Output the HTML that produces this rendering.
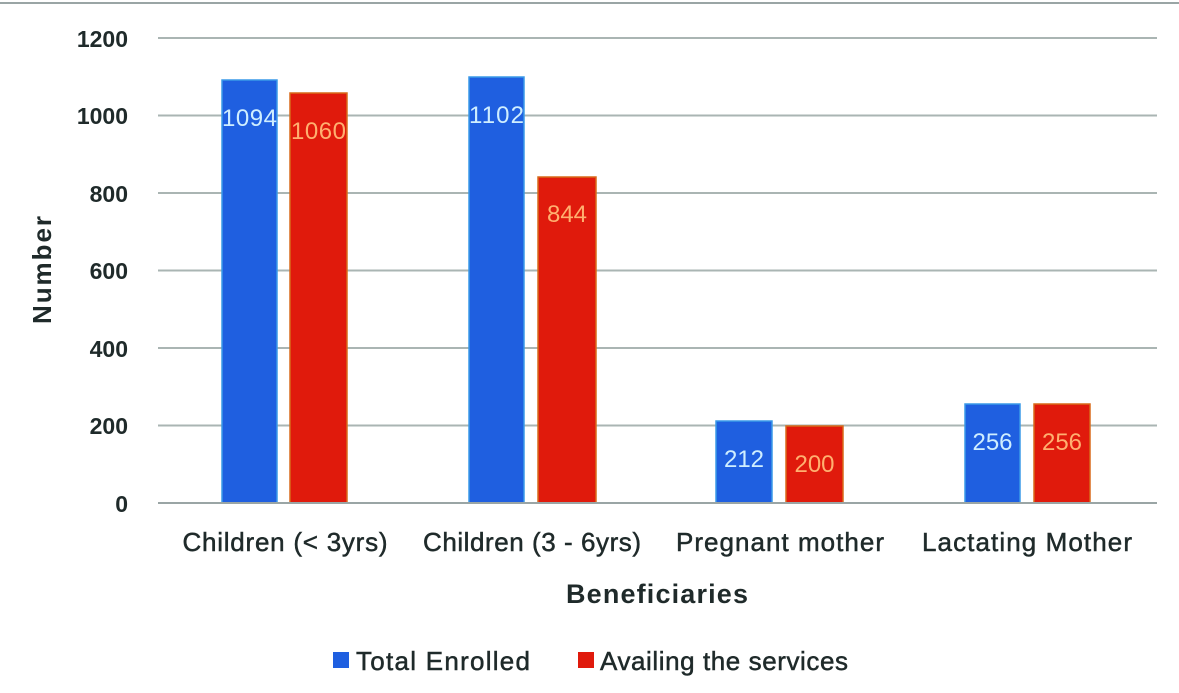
<!DOCTYPE html>
<html><head><meta charset="utf-8"><style>
html,body{margin:0;padding:0;background:#fff;}
svg{display:block;font-family:"Liberation Sans",sans-serif;}
</style></head><body>
<svg width="1179" height="693" viewBox="0 0 1179 693">
<rect x="0" y="0" width="1179" height="693" fill="#fff"/>
<line x1="0" y1="3" x2="1179" y2="3" stroke="#9aa5a5" stroke-width="2"/>
<g stroke="#aab5b3" stroke-width="2">
<line x1="158" y1="38" x2="1157" y2="38"/>
<line x1="158" y1="115.5" x2="1157" y2="115.5"/>
<line x1="158" y1="193" x2="1157" y2="193"/>
<line x1="158" y1="270.5" x2="1157" y2="270.5"/>
<line x1="158" y1="348" x2="1157" y2="348"/>
<line x1="158" y1="425.5" x2="1157" y2="425.5"/>
</g>
<g font-size="23" font-weight="bold" fill="#1f2a2a" text-anchor="end">
<text x="128" y="47">1200</text><text x="128" y="124">1000</text><text x="128" y="202">800</text>
<text x="128" y="279">600</text><text x="128" y="357">400</text><text x="128" y="434">200</text><text x="128" y="512">0</text>
</g>
<g fill="#1f5fe0" stroke="#3a9ae8" stroke-width="1.5">
<rect x="222" y="80" width="55" height="423"/>
<rect x="469" y="77" width="55" height="426"/>
<rect x="716" y="421" width="56" height="82"/>
<rect x="965" y="404" width="55" height="99"/>
</g>
<g fill="#e01a0c" stroke="#d86a1a" stroke-width="1.5">
<rect x="290" y="93" width="57" height="410"/>
<rect x="538" y="177" width="58" height="326"/>
<rect x="786" y="426" width="57" height="77"/>
<rect x="1034" y="404" width="56" height="99"/>
</g>
<line x1="158" y1="503" x2="1157" y2="503" stroke="#9aa5a5" stroke-width="2"/>
<g font-size="24" text-anchor="middle" fill="#cfeeff">
<text x="249.5" y="126" textLength="55">1094</text><text x="496.5" y="123" textLength="55">1102</text>
<text x="744" y="467">212</text><text x="992.5" y="450">256</text>
</g>
<g font-size="24" text-anchor="middle" fill="#ffb070">
<text x="318.5" y="139" textLength="55">1060</text><text x="567" y="222">844</text>
<text x="814.5" y="472">200</text><text x="1062" y="450">256</text>
</g>
<g font-size="26" fill="#1f2a2a" text-anchor="middle" stroke="#1f2a2a" stroke-width="0.5">
<text x="285" y="551" textLength="205">Children (&lt; 3yrs)</text>
<text x="532" y="551" textLength="218">Children (3 - 6yrs)</text>
<text x="780" y="551" textLength="208">Pregnant mother</text>
<text x="1027" y="551" textLength="210">Lactating Mother</text>
</g>
<text x="657" y="603" font-size="27" font-weight="bold" fill="#1f2a2a" text-anchor="middle" textLength="182">Beneficiaries</text>
<text transform="translate(51,270) rotate(-90)" font-size="26" font-weight="bold" fill="#1f2a2a" text-anchor="middle" textLength="108">Number</text>
<rect x="333" y="652" width="16" height="16" fill="#1f5fe0"/>
<text x="356" y="670" font-size="26" fill="#1f2a2a" stroke="#1f2a2a" stroke-width="0.5" textLength="174">Total Enrolled</text>
<rect x="578" y="652" width="16" height="16" fill="#e01a0c"/>
<text x="600" y="670" font-size="26" fill="#1f2a2a" stroke="#1f2a2a" stroke-width="0.5" textLength="248">Availing the services</text>
</svg>
</body></html>
